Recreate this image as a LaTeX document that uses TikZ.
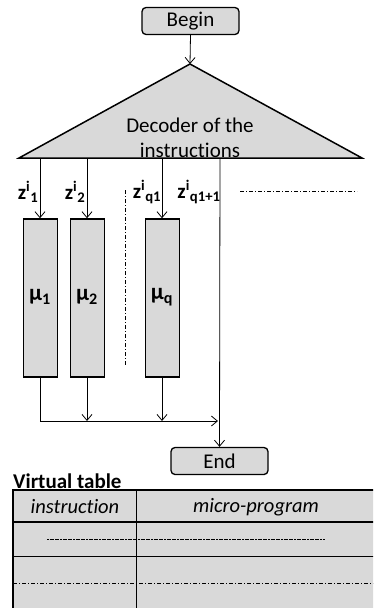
\documentclass[tikz,border=0pt]{standalone}
\usepackage{fontspec}
\setmainfont{Carlito}[Ligatures=NoCommon]
\usetikzlibrary{arrows.meta}
\definecolor{boxgray}{RGB}{217,217,217}
\begin{document}
\begin{tikzpicture}[x=1pt,y=-1pt,
  every node/.style={font=\fontsize{21}{25}\selectfont, inner sep=0pt},
  term/.style={draw, rounded corners=4pt, fill=boxgray, line width=1.3pt, minimum width=97pt, minimum height=27pt},
  mubox/.style={draw, fill=boxgray, line width=1.5pt, minimum width=34pt, minimum height=158pt},
  conn/.style={line width=0.8pt},
  arr/.style={conn, -{Straight Barb[length=6pt,width=10pt]}},
  dd/.style={line width=0.8pt, dash pattern=on 4pt off 2pt on 1pt off 2pt},
  zlab/.style={font=\fontsize{21}{22}\selectfont\bfseries},
  mlab/.style={font=\fontsize{23}{22}\selectfont\bfseries},
  tline/.style={line width=1.2pt},
  hdr/.style={font=\fontsize{20.5}{22}\selectfont\itshape},
]
\useasboundingbox (0,0) rectangle (373,608);
\clip (0,0) rectangle (373,608);

% Begin
\node[term] (begin) at (190.5,21) {Begin};

% decoder triangle
\coordinate (apex) at (190,64);
\coordinate (bl) at (19,158);
\coordinate (br) at (362,158);
\draw[arr] (begin.south) -- (apex);
\filldraw[fill=boxgray, line width=1.5pt] (apex) -- (br) -- (bl) -- cycle;
\node[align=center] (dec) at (190,137.5) {Decoder of the\\instructions};

% outputs
\coordinate (o1) at (40,158);
\coordinate (o2) at (87,158);
\coordinate (o3) at (162,158);
\coordinate (o4) at (220,158);

% micro-program boxes
\node[mubox] (mu1) at (40.5,298) {};
\node[mubox] (mu2) at (87.5,298) {};
\node[mubox] (muq) at (162.5,298) {};
\node[mlab] (m1) at (40,297) {μ\textsubscript{1}};
\node[mlab] (m2) at (87,297) {μ\textsubscript{2}};
\node[mlab] (mq) at (162,297) {μ\textsubscript{q}};

\draw[arr] (o1) -- (o1 |- mu1.north);
\draw[arr] (o2) -- (o2 |- mu2.north);
\draw[arr] (o3) -- (o3 |- muq.north);

% labels
\node[zlab] (z1) at (28,192) {z\textsuperscript{i}\textsubscript{1}};
\node[zlab] (z2) at (75,192) {z\textsuperscript{i}\textsubscript{2}};
\node[zlab] (zq) at (147,192) {z\textsuperscript{i}\textsubscript{q1}};
\node[zlab] (zq1) at (199,192) {z\textsuperscript{i}\textsubscript{q1+1}};

% dash-dot marks
\coordinate (v1) at (125,190);
\coordinate (v2) at (125,365);
\draw[dd] (v1) -- (v2);
\coordinate (h1) at (240,191);
\coordinate (h2) at (357,191);
\draw[dd] (h1) -- (h2);

% joins
\coordinate (c1) at (40,421);
\coordinate (c2) at (87,421);
\coordinate (c3) at (162,421);
\coordinate (j) at (218,421);
\draw[arr] (mu1.south -| o1) -- (c1) -- (j);
\draw[arr] (mu2.south -| o2) -- (c2);
\draw[arr] (muq.south -| o3) -- (c3);

% End
\node[term] (end) at (219.5,461) {End};
\draw[arr] (o4) -- (end.north);

% virtual table
\node[font=\fontsize{21}{22}\selectfont\bfseries, anchor=west] (vt) at (13,481) {Virtual table};
\fill[boxgray] (13,490) rectangle (380,615);
\coordinate (t1) at (13,490);
\coordinate (t2) at (380,490);
\coordinate (t3) at (13,615);
\draw[tline] (t2) -- (t1) -- (t3);
\coordinate (r1a) at (13,522);
\coordinate (r1b) at (380,522);
\draw[tline] (r1a) -- (r1b);
\coordinate (r2a) at (13,556);
\coordinate (r2b) at (380,556);
\draw[line width=1pt] (r2a) -- (r2b);
\coordinate (ca) at (136,490);
\coordinate (cb) at (136,615);
\draw[line width=1pt] (ca) -- (cb);
\coordinate (d1) at (47,539);
\coordinate (d2) at (325,539);
\draw[line width=0.7pt, dash pattern=on 2pt off 0.6pt] (d1) -- (d2);
\coordinate (e1) at (13,583);
\coordinate (e2) at (380,583);
\draw[dd] (e1) -- (e2);
\node[hdr] (hi) at (75,507) {instruction};
\node[hdr] (hm) at (256,507) {micro-program};
\end{tikzpicture}
\end{document}
